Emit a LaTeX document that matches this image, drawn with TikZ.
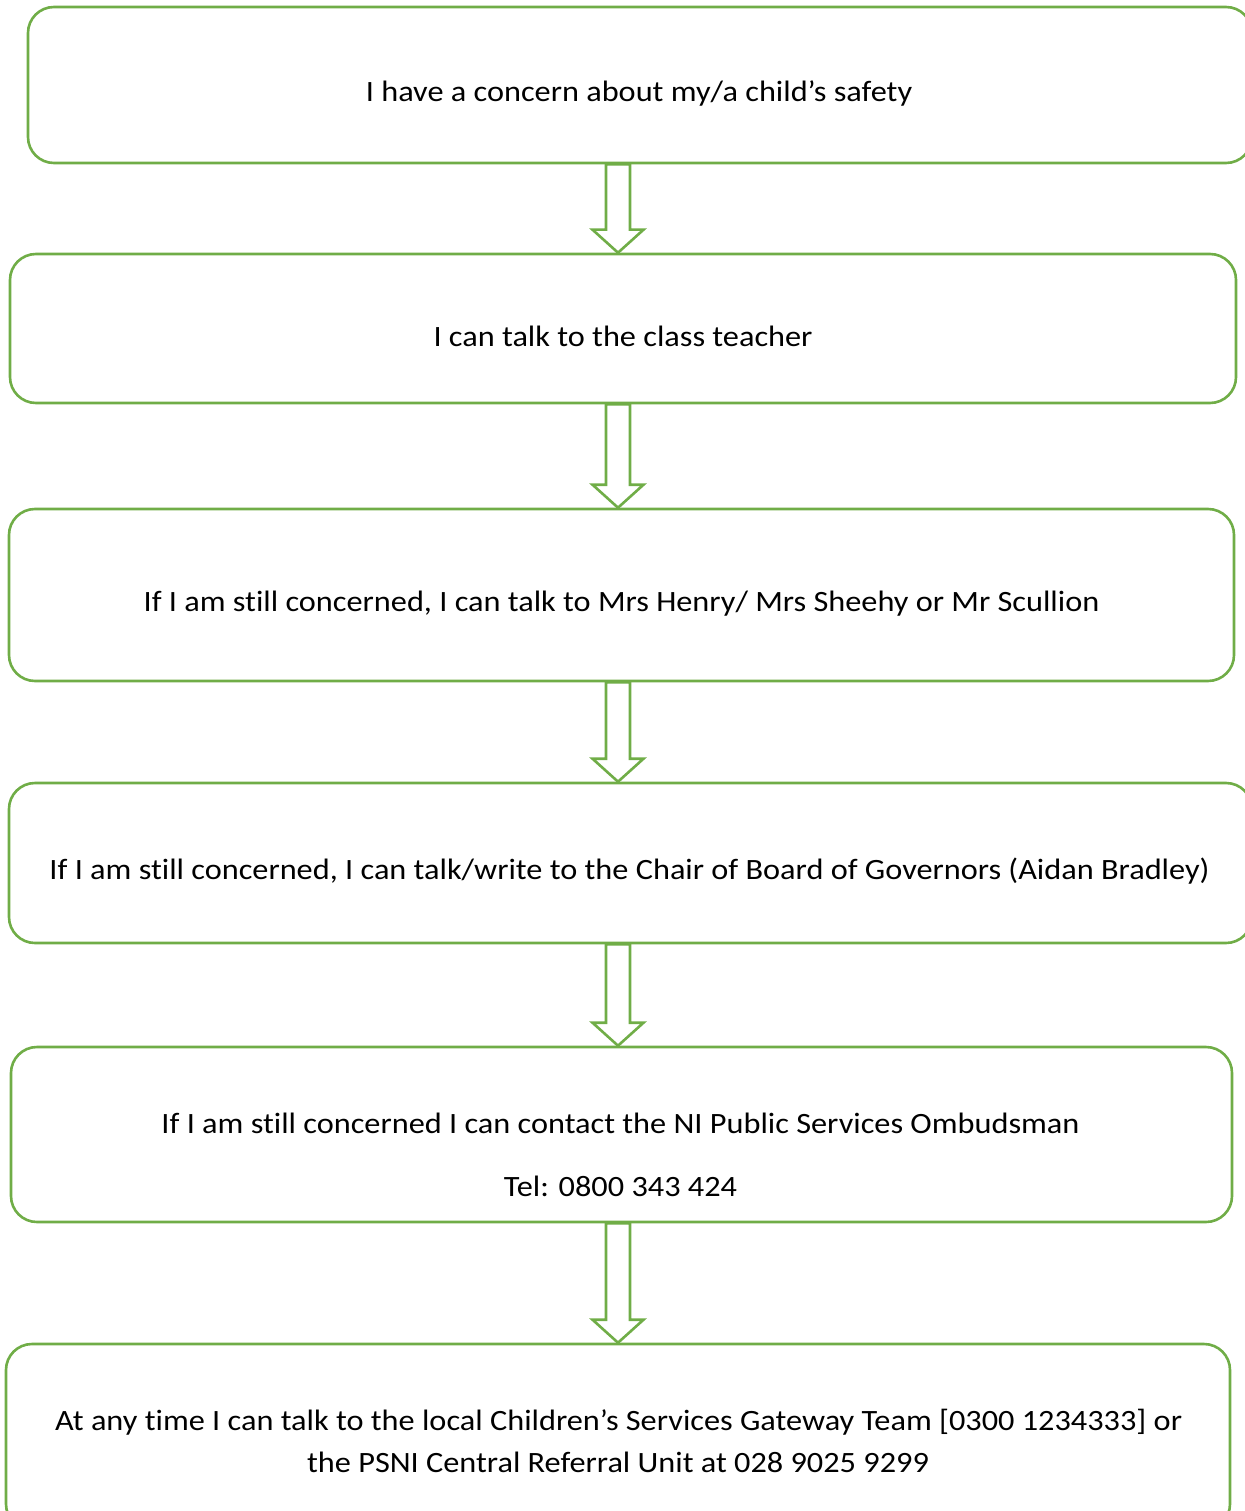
\documentclass[tikz,border=0pt]{standalone}
\usepackage{fontspec}
\setmainfont{Carlito}[FakeStretch=1.095, Ligatures={NoCommon}]
\usetikzlibrary{calc}
\definecolor{boxgreen}{HTML}{70AD47}
\tikzset{
  box/.style={draw=boxgreen, line width=2.6pt, rounded corners=26pt, inner sep=0pt, fill=none},
  txt/.style={anchor=base, inner sep=0pt, font=\fontsize{29.5}{35}\selectfont, text=black},
}
\newcommand\blockarrow[2]{%
  \path let \p1=(#1), \p2=(#2) in
    [draw=boxgreen, fill=white, line width=2.6pt, line join=miter]
    (\x1-12pt,\y1) -- (\x1+12pt,\y1) -- (\x1+12pt,\y2+23pt) -- (\x1+25.5pt,\y2+23pt)
    -- (\x1,\y2) -- (\x1-25.5pt,\y2+23pt) -- (\x1-12pt,\y2+23pt) -- cycle;}
\begin{document}
\begin{tikzpicture}[x=1pt,y=-1pt]
\useasboundingbox (0,0) rectangle (1244,1511);
\node[box, minimum width=1224pt, minimum height=156pt] (b1) at (640,85) {};
\node[box, minimum width=1226pt, minimum height=149pt] (b2) at (623,328.5) {};
\node[box, minimum width=1225pt, minimum height=172pt] (b3) at (621.5,595) {};
\node[box, minimum width=1243pt, minimum height=160pt] (b4) at (630.5,863) {};
\node[box, minimum width=1221pt, minimum height=175pt] (b5) at (621.5,1134.5) {};
\node[box, minimum width=1224pt, minimum height=186pt] (b6) at (618,1437) {};

\coordinate (ax) at (618,0);
\foreach \a/\b in {b1/b2,b2/b3,b3/b4,b4/b5,b5/b6}{
  \coordinate (s) at (ax |- \a.south);
  \coordinate (e) at (ax |- \b.north);
  \blockarrow{s}{e}
}

\node[txt] (t1) at (639,101.5) {I have a concern about my/a child’s safety};
\node[txt] (t2) at (623,346) {I can talk to the class teacher};
\node[txt] (t3) at (621.5,611) {If I am still concerned, I can talk to Mrs Henry/ Mrs Sheehy or Mr Scullion};
\node[txt] (t4) at (629.5,879) {If I am still concerned, I can talk/write to the Chair of Board of Governors (Aidan Bradley)};
\node[txt] (t5a) at (620.5,1133) {If I am still concerned I can contact the NI Public Services Ombudsman};
\node[txt] (t5b) at (620.5,1196) {Tel: 0800 343 424};
\node[txt] (t6a) at (618.5,1430) {At any time I can talk to the local Children’s Services Gateway Team [0300 1234333] or};
\node[txt] (t6b) at (618,1472) {the PSNI Central Referral Unit at 028 9025 9299};
\end{tikzpicture}
\end{document}
